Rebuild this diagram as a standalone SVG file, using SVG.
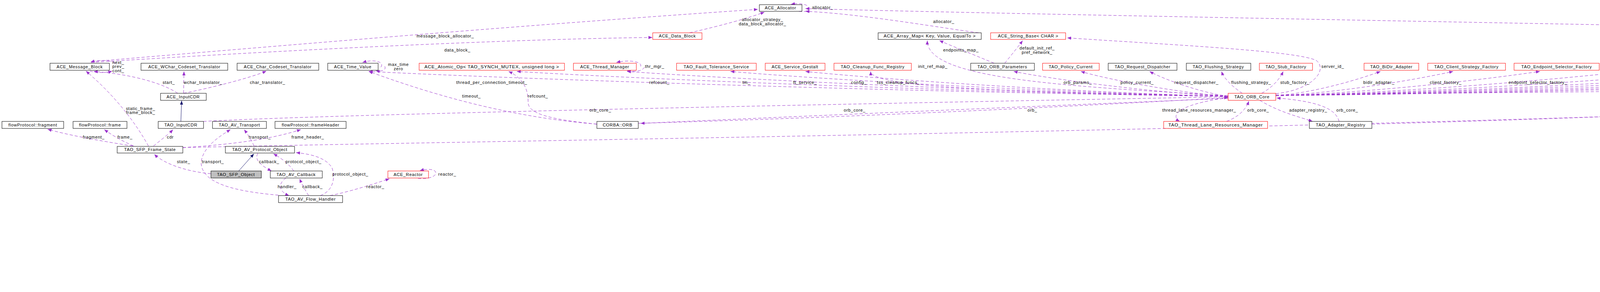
<svg xmlns="http://www.w3.org/2000/svg" width="5941" height="748" viewBox="0 0 5941 748">
<style>
.n rect{fill:#fff;stroke:#000;stroke-width:1}
.r rect{stroke:#f00}
.g rect{stroke:#bfbfbf}
.s rect{fill:#bfbfbf}
text{font-family:"Liberation Sans",Arial,sans-serif;font-size:11px;letter-spacing:0.7px;fill:#000;text-anchor:middle}
.e path{fill:none;stroke:#9a32cd;stroke-dasharray:8,5;marker-end:url(#a)}
.e path.i{stroke:#191970;stroke-dasharray:none;marker-end:url(#b)}
</style>
<defs>
<marker id="a" markerUnits="userSpaceOnUse" markerWidth="12" markerHeight="10" refX="10" refY="4" orient="auto"><path d="M0,0L10,4L0,8z" fill="#9a32cd"/></marker>
<marker id="b" markerUnits="userSpaceOnUse" markerWidth="12" markerHeight="10" refX="10" refY="4" orient="auto"><path d="M0,0L10,4L0,8z" fill="#191970"/></marker>
</defs>
<rect width="5941" height="748" fill="#fff"/>
<g class="e">
<path d="M295,162 C280,152 250,154 232,159"/>
<path d="M230,182 C250,188 275,186 287,182"/>
<path d="M233,158 C800,110 1400,60 1940,24"/>
<path d="M233,160 C700,130 1300,100 1670,96"/>
<path d="M1765,84 C1850,65 1920,45 1957,31"/>
<path d="M2045,29 C2085,35 2080,2 2025,11"/>
<path d="M2505,84 C2400,70 2200,35 2062,29"/>
<path d="M5224,85 C4500,70 2500,35 2062,22"/>
<path d="M455,239 C420,215 340,190 240,183"/>
<path d="M470,239 L471,183"/>
<path d="M470,239 C540,225 640,200 682,182"/>
<path d="M380,374 C350,320 300,250 220,182"/>
<path d="M340,374 C250,360 170,345 122,331"/>
<path d="M342,374 C310,360 285,345 267,332"/>
<path d="M393,374 C410,360 430,345 443,332"/>
<path d="M468,378 C600,370 700,355 770,332"/>
<path class="i" d="M463,311 L465,258"/>
<path d="M650,374 C645,360 635,345 625,332"/>
<path d="M713,500 C600,490 520,470 515,420 C515,380 560,350 590,332"/>
<path d="M540,445 C480,440 420,420 395,395"/>
<path class="i" d="M611,438 L650,394"/>
<path d="M660,393 C650,410 670,425 695,438"/>
<path d="M752,438 C740,420 720,405 700,394"/>
<path d="M820,501 C850,490 860,460 850,430 C835,405 800,395 758,391"/>
<path d="M732,456 C712,470 712,490 740,501"/>
<path d="M790,501 C780,485 772,470 767,458"/>
<path d="M845,501 C900,490 960,470 997,458"/>
<path d="M1070,457 C1095,460 1120,452 1115,440 C1110,432 1090,433 1075,437"/>
<path d="M975,172 C985,160 960,150 928,160"/>
<path d="M985,170 C990,180 975,184 962,181"/>
<path d="M1640,170 C1645,158 1610,152 1578,160"/>
<path d="M1650,172 C1645,182 1625,185 1605,181"/>
<path d="M1528,318 C1300,300 1100,240 944,183"/>
<path d="M1528,318 C1400,305 1350,290 1352,260 C1352,230 1340,200 1302,183"/>
<path d="M3144,247 C2264,235 1274,200 944,183"/>
<path d="M3144,247 C2416,235 1596,200 1323,183"/>
<path d="M3144,247 C2528,235 1836,200 1605,183"/>
<path d="M3144,247 C2634,235 2061,200 1870,183"/>
<path d="M3144,247 C2709,235 2222,200 2062,183"/>
<path d="M3144,247 C2600,235 2229,225 2229,183"/>
<path d="M3144,247 C2924,235 2677,200 2595,183"/>
<path d="M3144,247 C2993,235 2823,200 2767,183"/>
<path d="M3144,247 C3064,235 2973,200 2943,183"/>
<path d="M3180,239 C3160,225 3135,205 3127,183"/>
<path d="M3230,239 C3255,225 3275,205 3285,183"/>
<path d="M3266,245 C3373,237 3494,198 3534,183"/>
<path d="M3266,245 C3448,237 3652,198 3720,183"/>
<path d="M3266,245 C3536,237 3840,198 3942,183"/>
<path d="M3266,245 C3627,237 4033,198 4168,183"/>
<path d="M3266,245 C3706,237 4201,198 4366,183"/>
<path d="M3266,245 C3784,237 4366,198 4560,183"/>
<path d="M3266,245 C3854,237 4514,198 4735,183"/>
<path d="M3266,245 C3942,237 4701,198 4955,183"/>
<path d="M3266,245 C4040,237 4910,198 5201,183"/>
<path d="M3266,245 C4149,237 5142,198 5473,183"/>
<path d="M3512,318 C4500,290 5420,250 5517,183"/>
<path d="M468,378 C1500,355 4500,320 5660,223"/>
<path d="M3266,243 C4500,230 5330,230 5323,170 C5318,130 5200,110 5130,103"/>
<path d="M3266,240 C3360,230 3400,180 3370,155 C3320,130 3000,115 2732,97"/>
<path d="M3144,245 C2700,220 2372,200 2374,104"/>
<path d="M2545,162 C2480,135 2430,115 2405,104"/>
<path d="M2572,162 C2590,140 2610,115 2618,104"/>
<path d="M521,311 C900,290 2500,260 3144,248"/>
<path d="M1634,316 C2200,300 2800,270 3144,250"/>
<path d="M3144,252 C2700,270 2000,300 1640,316"/>
<path d="M3144,250 C3000,270 3000,300 3020,311"/>
<path d="M3140,311 C3170,300 3190,280 3197,259"/>
<path d="M3225,257 C3280,290 3330,300 3360,311"/>
<path d="M3428,311 C3420,280 3380,260 3268,251"/>
<path d="M4640,162 C4800,140 4950,110 5000,103"/>
<path class="i" d="M5696,204 L5592,103"/>
<path d="M5548,84 C5520,70 5480,45 5452,31"/>
<path d="M5580,84 L5580,31"/>
<path d="M5607,84 C5650,70 5690,45 5714,31"/>
</g>
<g class="e-labels">
<text x="303" y="164">next_</text><text x="303" y="174">prev_</text><text x="303" y="185">cont_</text>
<text x="1140" y="96">message_block_allocator_</text>
<text x="1171" y="132">data_block_</text>
<text x="1952" y="54">allocator_strategy_</text><text x="1952" y="65">data_block_allocator_</text>
<text x="2106" y="23">allocator_</text>
<text x="2416" y="59">allocator_</text>
<text x="4318" y="54">entry_allocator_</text><text x="4318" y="65">table_allocator_</text>
<text x="432" y="215">start_</text>
<text x="520" y="215">wchar_translator_</text>
<text x="685" y="215">char_translator_</text>
<text x="360" y="282">static_frame_</text><text x="360" y="292">frame_block_</text>
<text x="240" y="355">fragment_</text>
<text x="320" y="355">frame_</text>
<text x="436" y="355">cdr</text>
<text x="665" y="355">transport_</text>
<text x="788" y="355">frame_header_</text>
<text x="545" y="418">transport_</text>
<text x="470" y="418">state_</text>
<text x="689" y="418">callback_</text>
<text x="777" y="418">protocol_object_</text>
<text x="897" y="450">protocol_object_</text>
<text x="735" y="482">handler_</text>
<text x="800" y="482">callback_</text>
<text x="961" y="482">reactor_</text>
<text x="1145" y="450">reactor_</text>
<text x="1020" y="169">max_time</text><text x="1020" y="180">zero</text>
<text x="1207" y="250">timeout_</text>
<text x="1259" y="215">thread_per_connection_timeout_</text>
<text x="1377" y="250">refcount_</text>
<text x="1688" y="215">refcount_</text>
<text x="1676" y="174">thr_mgr_</text>
<text x="1911" y="215">tm_</text>
<text x="2061" y="215">ft_service_</text>
<text x="2199" y="215">config_</text>
<text x="2300" y="215">tss_cleanup_funcs_</text>
<text x="2388" y="174">init_ref_map_</text>
<text x="2460" y="132">endpoints_map_</text>
<text x="2655" y="127">default_init_ref_</text><text x="2655" y="138">pref_network_</text>
<text x="2759" y="215">orb_params_</text>
<text x="2911" y="215">policy_current_</text>
<text x="3063" y="215">request_dispatcher_</text>
<text x="3203" y="215">flushing_strategy_</text>
<text x="3315" y="215">stub_factory_</text>
<text x="3412" y="174">server_id_</text>
<text x="3530" y="215">bidir_adapter_</text>
<text x="3701" y="215">client_factory_</text>
<text x="3937" y="215">endpoint_selector_factory_</text>
<text x="4168" y="215">codeset_manager_</text>
<text x="4373" y="215">collocation_resolver_</text>
<text x="4563" y="215">policy_manager_</text>
<text x="4737" y="215">parser_registry_</text>
<text x="4992" y="215">network_priority_protocols_hooks_</text>
<text x="5213" y="215">protocols_hooks_</text>
<text x="4927" y="132">impl_</text>
<text x="5371" y="174">default_policies_</text>
<text x="5440" y="215">poa_adapter_</text>
<text x="5444" y="250">adapters_</text>
<text x="5414" y="286">fragment_table_map_</text>
<text x="1537" y="286">orb_core_</text>
<text x="2188" y="286">orb_core_</text>
<text x="2643" y="286">orb_</text>
<text x="3070" y="286">thread_lane_resources_manager_</text>
<text x="3221" y="286">orb_core_</text>
<text x="3349" y="286">adapter_registry_</text>
<text x="3449" y="286">orb_core_</text>
<text x="5540" y="59">hash_key_</text>
<text x="5597" y="59">lock_</text>
<text x="5728" y="59">compare_keys_</text>
</g>
<g id="ACE_Allocator" class="n"><rect x="1944" y="12" width="109" height="17"/><text x="1998" y="24">ACE_Allocator</text></g>
<g id="ACE_Hash" class="n"><rect x="5352" y="12" width="160" height="17"/><text x="5432" y="24">ACE_Hash&lt; EXT_ID &gt;</text></g>
<g id="ACE_LOCK" class="n g"><rect x="5533" y="12" width="95" height="17"/><text x="5580" y="24">ACE_LOCK</text></g>
<g id="ACE_Equal_To" class="n"><rect x="5651" y="12" width="183" height="17"/><text x="5742" y="24">ACE_Equal_To&lt; EXT_ID &gt;</text></g>
<g id="ACE_Data_Block" class="n r"><rect x="1671" y="84" width="126" height="17"/><text x="1734" y="96">ACE_Data_Block</text></g>
<g id="ACE_Array_Map" class="n"><rect x="2248" y="84" width="264" height="17"/><text x="2380" y="96" textLength="236" lengthAdjust="spacingAndGlyphs">ACE_Array_Map&lt; Key, Value, EqualTo &gt;</text></g>
<g id="ACE_String_Base" class="n r"><rect x="2536" y="84" width="192" height="17"/><text x="2632" y="96">ACE_String_Base&lt; CHAR &gt;</text></g>
<g id="TAO_Policy_Set" class="n r"><rect x="5004" y="84" width="120" height="17"/><text x="5064" y="96">TAO_Policy_Set</text></g>
<g id="ACE_Hash_Map_Manager_Ex" class="n"><rect x="5224" y="84" width="714" height="17"/><text x="5581" y="96" textLength="680" lengthAdjust="spacingAndGlyphs">ACE_Hash_Map_Manager_Ex&lt; EXT_ID, INT_ID, ACE_Hash&lt; EXT_ID &gt;, ACE_Equal_To&lt; EXT_ID &gt;, ACE_LOCK &gt;</text></g>
<g id="ACE_Message_Block" class="n"><rect x="128" y="162" width="152" height="18"/><text x="204" y="175">ACE_Message_Block</text></g>
<g id="ACE_WChar_Codeset_Translator" class="n"><rect x="361" y="162" width="222" height="18"/><text x="472" y="175">ACE_WChar_Codeset_Translator</text></g>
<g id="ACE_Char_Codeset_Translator" class="n"><rect x="607" y="162" width="209" height="18"/><text x="711" y="175">ACE_Char_Codeset_Translator</text></g>
<g id="ACE_Time_Value" class="n"><rect x="839" y="162" width="129" height="18"/><text x="903" y="175">ACE_Time_Value</text></g>
<g id="ACE_Atomic_Op" class="n r"><rect x="1073" y="162" width="372" height="18"/><text x="1259" y="175" textLength="345" lengthAdjust="spacingAndGlyphs">ACE_Atomic_Op&lt; TAO_SYNCH_MUTEX, unsigned long &gt;</text></g>
<g id="ACE_Thread_Manager" class="n r"><rect x="1468" y="162" width="161" height="18"/><text x="1548" y="175">ACE_Thread_Manager</text></g>
<g id="TAO_Fault_Tolerance_Service" class="n r"><rect x="1732" y="162" width="204" height="18"/><text x="1834" y="175">TAO_Fault_Tolerance_Service</text></g>
<g id="ACE_Service_Gestalt" class="n r"><rect x="1959" y="162" width="153" height="18"/><text x="2035" y="175">ACE_Service_Gestalt</text></g>
<g id="TAO_Cleanup_Func_Registry" class="n r"><rect x="2135" y="162" width="198" height="18"/><text x="2234" y="175">TAO_Cleanup_Func_Registry</text></g>
<g id="TAO_ORB_Parameters" class="n"><rect x="2485" y="162" width="163" height="18"/><text x="2566" y="175">TAO_ORB_Parameters</text></g>
<g id="TAO_Policy_Current" class="n r"><rect x="2669" y="162" width="145" height="18"/><text x="2741" y="175">TAO_Policy_Current</text></g>
<g id="TAO_Request_Dispatcher" class="n"><rect x="2837" y="162" width="176" height="18"/><text x="2925" y="175">TAO_Request_Dispatcher</text></g>
<g id="TAO_Flushing_Strategy" class="n"><rect x="3037" y="162" width="165" height="18"/><text x="3119" y="175">TAO_Flushing_Strategy</text></g>
<g id="TAO_Stub_Factory" class="n r"><rect x="3224" y="162" width="136" height="18"/><text x="3292" y="175">TAO_Stub_Factory</text></g>
<g id="TAO_BiDir_Adapter" class="n r"><rect x="3492" y="162" width="140" height="18"/><text x="3562" y="175">TAO_BiDir_Adapter</text></g>
<g id="TAO_Client_Strategy_Factory" class="n r"><rect x="3655" y="162" width="199" height="18"/><text x="3754" y="175">TAO_Client_Strategy_Factory</text></g>
<g id="TAO_Endpoint_Selector_Factory" class="n r"><rect x="3876" y="162" width="218" height="18"/><text x="3985" y="175">TAO_Endpoint_Selector_Factory</text></g>
<g id="TAO_Codeset_Manager" class="n"><rect x="4116" y="162" width="166" height="18"/><text x="4199" y="175">TAO_Codeset_Manager</text></g>
<g id="TAO_Collocation_Resolver" class="n r"><rect x="4305" y="162" width="183" height="18"/><text x="4396" y="175">TAO_Collocation_Resolver</text></g>
<g id="TAO_Policy_Manager" class="n r"><rect x="4511" y="162" width="153" height="18"/><text x="4587" y="175">TAO_Policy_Manager</text></g>
<g id="TAO_Parser_Registry" class="n r"><rect x="4687" y="162" width="151" height="18"/><text x="4762" y="175">TAO_Parser_Registry</text></g>
<g id="TAO_Network_Priority_Protocols_Hooks" class="n r"><rect x="4860" y="162" width="264" height="18"/><text x="4992" y="175" textLength="240" lengthAdjust="spacingAndGlyphs">TAO_Network_Priority_Protocols_Hooks</text></g>
<g id="TAO_Protocols_Hooks" class="n r"><rect x="5145" y="162" width="159" height="18"/><text x="5224" y="175">TAO_Protocols_Hooks</text></g>
<g id="TAO_Adapter" class="n"><rect x="5475" y="162" width="103" height="18"/><text x="5526" y="175">TAO_Adapter</text></g>
<g id="ACE_Hash_Map_Manager" class="n"><rect x="5517" y="204" width="381" height="17"/><text x="5707" y="216" textLength="355" lengthAdjust="spacingAndGlyphs">ACE_Hash_Map_Manager&lt; EXT_ID, INT_ID, ACE_LOCK &gt;</text></g>
<g id="ACE_InputCDR" class="n"><rect x="411" y="239" width="117" height="18"/><text x="469" y="252">ACE_InputCDR</text></g>
<g id="TAO_ORB_Core" class="n r"><rect x="3144" y="239" width="122" height="18"/><text x="3205" y="252">TAO_ORB_Core</text></g>
<g id="flowProtocol_fragment" class="n"><rect x="5" y="311" width="158" height="18"/><text x="84" y="324">flowProtocol::fragment</text></g>
<g id="flowProtocol_frame" class="n"><rect x="187" y="311" width="138" height="18"/><text x="256" y="324">flowProtocol::frame</text></g>
<g id="TAO_InputCDR" class="n"><rect x="405" y="311" width="116" height="18"/><text x="463" y="324">TAO_InputCDR</text></g>
<g id="TAO_AV_Transport" class="n"><rect x="544" y="311" width="138" height="18"/><text x="613" y="324">TAO_AV_Transport</text></g>
<g id="flowProtocol_frameHeader" class="n"><rect x="704" y="311" width="182" height="18"/><text x="795" y="324">flowProtocol::frameHeader</text></g>
<g id="CORBA_ORB" class="n"><rect x="1528" y="311" width="106" height="18"/><text x="1581" y="324">CORBA::ORB</text></g>
<g id="TAO_Thread_Lane_Resources_Manager" class="n r"><rect x="2979" y="311" width="266" height="18"/><text x="3112" y="324" textLength="242" lengthAdjust="spacingAndGlyphs">TAO_Thread_Lane_Resources_Manager</text></g>
<g id="TAO_Adapter_Registry" class="n"><rect x="3352" y="311" width="160" height="18"/><text x="3432" y="324">TAO_Adapter_Registry</text></g>
<g id="TAO_SFP_Frame_State" class="n"><rect x="300" y="375" width="168" height="17"/><text x="384" y="387">TAO_SFP_Frame_State</text></g>
<g id="TAO_AV_Protocol_Object" class="n"><rect x="577" y="375" width="177" height="17"/><text x="665" y="387">TAO_AV_Protocol_Object</text></g>
<g id="TAO_SFP_Object" class="n s"><rect x="540" y="438" width="129" height="18"/><text x="604" y="451">TAO_SFP_Object</text></g>
<g id="TAO_AV_Callback" class="n"><rect x="692" y="438" width="133" height="18"/><text x="758" y="451">TAO_AV_Callback</text></g>
<g id="ACE_Reactor" class="n r"><rect x="993" y="438" width="104" height="18"/><text x="1045" y="451">ACE_Reactor</text></g>
<g id="TAO_AV_Flow_Handler" class="n"><rect x="713" y="501" width="164" height="18"/><text x="795" y="514">TAO_AV_Flow_Handler</text></g>
</svg>
